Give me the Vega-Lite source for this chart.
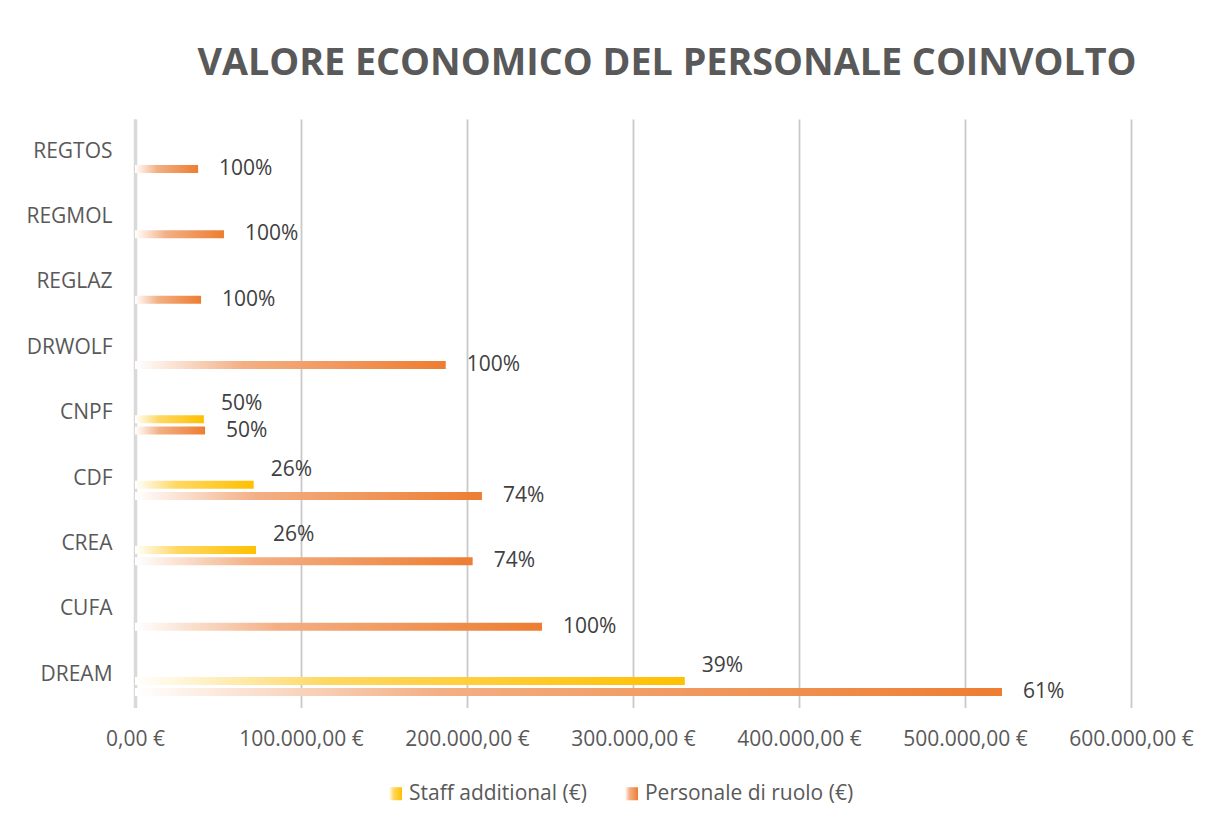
{
  "$schema": "https://vega.github.io/schema/vega-lite/v6.json",
  "width": 996,
  "height": 588.6,
  "autosize": {"type": "none"},
  "padding": {"left": 135, "top": 119, "right": 80, "bottom": 113},
  "background": "white",
  "config": {
    "locale": {"number": {"decimal": ",", "thousands": ".", "grouping": [3], "currency": ["", " €"]}},
    "font": "Open Sans",
    "view": {"stroke": null}
  },
  "title": {
    "text": "VALORE ECONOMICO DEL PERSONALE COINVOLTO",
    "font": "Open Sans",
    "fontSize": 37.7,
    "fontWeight": "bold",
    "color": "#595959",
    "anchor": "middle",
    "dx": 34,
    "baseline": "alphabetic",
    "offset": 6
  },
  "data": {
    "values": [
      {"ente": "REGTOS", "serie": "Personale di ruolo (€)", "valore": 38000, "pct": "100%"},
      {"ente": "REGMOL", "serie": "Personale di ruolo (€)", "valore": 53600, "pct": "100%"},
      {"ente": "REGLAZ", "serie": "Personale di ruolo (€)", "valore": 39800, "pct": "100%"},
      {"ente": "DRWOLF", "serie": "Personale di ruolo (€)", "valore": 187200, "pct": "100%"},
      {"ente": "CNPF", "serie": "Staff additional (€)", "valore": 41500, "pct": "50%"},
      {"ente": "CNPF", "serie": "Personale di ruolo (€)", "valore": 42200, "pct": "50%"},
      {"ente": "CDF", "serie": "Staff additional (€)", "valore": 71500, "pct": "26%"},
      {"ente": "CDF", "serie": "Personale di ruolo (€)", "valore": 209000, "pct": "74%"},
      {"ente": "CREA", "serie": "Staff additional (€)", "valore": 72900, "pct": "26%"},
      {"ente": "CREA", "serie": "Personale di ruolo (€)", "valore": 203400, "pct": "74%"},
      {"ente": "CUFA", "serie": "Personale di ruolo (€)", "valore": 245200, "pct": "100%"},
      {"ente": "DREAM", "serie": "Staff additional (€)", "valore": 331200, "pct": "39%"},
      {"ente": "DREAM", "serie": "Personale di ruolo (€)", "valore": 522300, "pct": "61%"}
    ]
  },
  "encoding": {
    "y": {
      "field": "ente",
      "type": "nominal",
      "scale": {"domain": ["REGTOS", "REGMOL", "REGLAZ", "DRWOLF", "CNPF", "CDF", "CREA", "CUFA", "DREAM"], "paddingInner": 0, "paddingOuter": 0},
      "axis": {
        "title": null,
        "domainColor": "#D9D9D9",
        "domainWidth": 3.5,
        "ticks": false,
        "grid": false,
        "labelFont": "Open Sans",
        "labelFontSize": 21,
        "labelColor": "#595959",
        "labelPadding": 23
      }
    },
    "yOffset": {
      "field": "serie",
      "type": "nominal",
      "scale": {"domain": ["_0", "_1", "_2", "Staff additional (€)", "Personale di ruolo (€)", "_5"], "paddingInner": 0.286, "paddingOuter": 0.063, "align": 0.8}
    }
  },
  "layer": [
    {
      "mark": {"type": "bar"},
      "encoding": {
        "x": {
          "field": "valore",
          "type": "quantitative",
          "scale": {"domain": [0, 600000], "nice": false},
          "axis": {
            "title": null,
            "values": [0, 100000, 200000, 300000, 400000, 500000, 600000],
            "format": "$,.2f",
            "labelOverlap": false,
            "labelFlush": false,
            "grid": true,
            "gridColor": "#C9C9C9",
            "gridWidth": 1.8,
            "domain": false,
            "ticks": false,
            "labelFont": "Open Sans",
            "labelFontSize": 21,
            "labelColor": "#595959",
            "labelPadding": 21
          }
        },
        "fill": {
          "field": "serie",
          "type": "nominal",
          "scale": {
            "domain": ["Staff additional (€)", "Personale di ruolo (€)"],
            "range": [
              {"expr": "{gradient: 'linear', x1: 0, y1: 0, x2: 1, y2: 0, stops: [{offset: 0, color: '#FFFFFF'}, {offset: 0.35, color: '#FFD862'}, {offset: 1, color: '#FFC000'}]}"},
              {"expr": "{gradient: 'linear', x1: 0, y1: 0, x2: 1, y2: 0, stops: [{offset: 0, color: '#FFFFFF'}, {offset: 0.35, color: '#F3AF84'}, {offset: 1, color: '#ED7D31'}]}"}
            ]
          },
          "legend": {
            "title": null,
            "orient": "none",
            "legendX": 250,
            "legendY": 664,
            "direction": "horizontal",
            "symbolType": "square",
            "symbolSize": 170,
            "symbolStrokeWidth": 0,
            "labelFont": "Open Sans",
            "labelFontSize": 21,
            "labelColor": "#595959",
            "labelOffset": 3,
            "labelLimit": 0,
            "columnPadding": 33
          }
        }
      }
    },
    {
      "transform": [{"filter": "datum.serie === 'Staff additional (€)'"}],
      "mark": {"type": "text", "align": "left", "baseline": "middle", "dx": 17, "dy": -15, "fontSize": 21, "font": "Open Sans", "color": "#404040"},
      "encoding": {
        "x": {"field": "valore", "type": "quantitative"},
        "text": {"field": "pct", "type": "nominal"}
      }
    },
    {
      "transform": [{"filter": "datum.serie === 'Personale di ruolo (€)'"}],
      "mark": {"type": "text", "align": "left", "baseline": "middle", "dx": 21, "dy": 0, "fontSize": 21, "font": "Open Sans", "color": "#404040"},
      "encoding": {
        "x": {"field": "valore", "type": "quantitative"},
        "text": {"field": "pct", "type": "nominal"}
      }
    }
  ]
}
